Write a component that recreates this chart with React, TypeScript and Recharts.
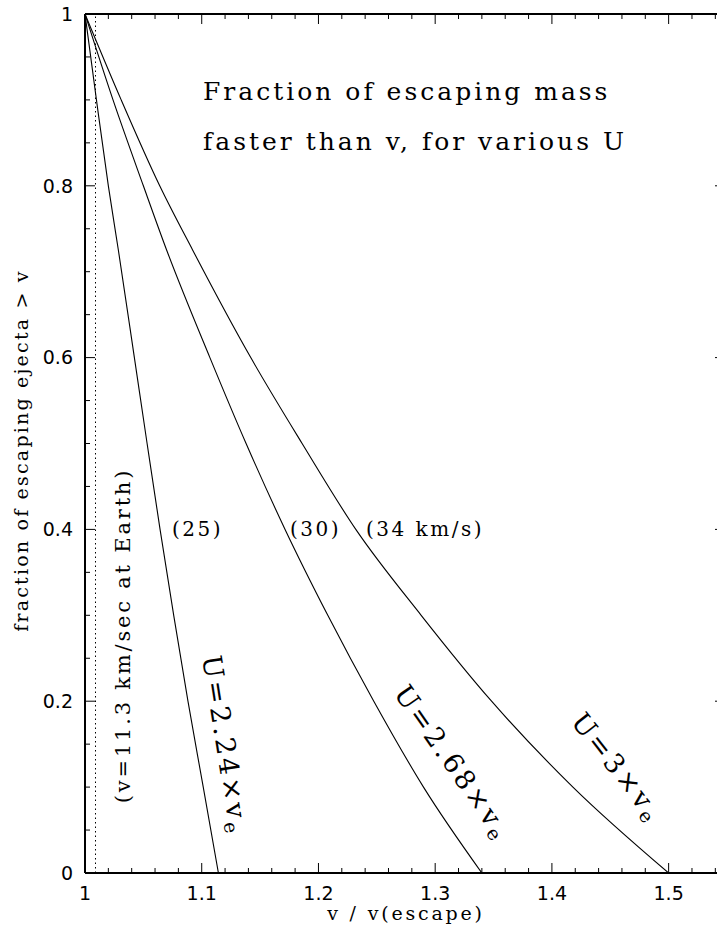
import { LineChart, Line, XAxis, YAxis, ReferenceLine, ReferenceDot } from "recharts";

// fraction of escaping ejecta faster than v (shared sample levels)
const fractionLevels = [1, 0.9, 0.8, 0.725, 0.6, 0.5, 0.4, 0.3, 0.2, 0.1, 0];
// v / v(escape) at those levels
const speedU224 = [1, 1.0098, 1.02, 1.0286, 1.0423, 1.0532, 1.0643, 1.076, 1.0882, 1.1013, 1.1143];
const speedU268 = [1, 1.024, 1.05, 1.07, 1.107, 1.138, 1.1714, 1.208, 1.2474, 1.29, 1.34];
const speedU300 = [1, 1.031, 1.064, 1.0923, 1.142, 1.186, 1.232, 1.288, 1.3483, 1.418, 1.5];

const xTicks = [
  1, 1.02, 1.04, 1.06, 1.08, 1.1, 1.12, 1.14, 1.16, 1.18, 1.2, 1.22, 1.24, 1.26,
  1.28, 1.3, 1.32, 1.34, 1.36, 1.38, 1.4, 1.42, 1.44, 1.46, 1.48, 1.5, 1.52, 1.54,
];
const xMajor = [1, 1.1, 1.2, 1.3, 1.4, 1.5];
const yTicks = [
  0, 0.05, 0.1, 0.15, 0.2, 0.25, 0.3, 0.35, 0.4, 0.45, 0.5, 0.55, 0.6, 0.65, 0.7,
  0.75, 0.8, 0.85, 0.9, 0.95, 1,
];
const yMajor = [0, 0.2, 0.4, 0.6, 0.8, 1];
const earthEscape = 1.009; // 11.3 / 11.2 km/s

const toSeries = (speeds: number[]) =>
  fractionLevels.map((f, i) => ({ v: speeds[i], f }));

const isMajor = (majors: number[], v: number) => majors.some((m) => Math.abs(m - v) < 1e-9);

const SERIF = "'DejaVu Serif', serif";
const SANS = "'DejaVu Sans', sans-serif";

// frame size of the plot box (chart 740x938, margins/axes below)
const PLOT_W = 642;
const PLOT_H = 859;

type Side = "bottom" | "left" | "right";

// ticks point inward, majors longer; bottom ticks are mirrored on the top frame
function makeTick(side: Side, majors: number[], labelled: boolean) {
  return (props: any) => {
    const x = Number(props.x);
    const y = Number(props.y);
    const val = props.payload.value as number;
    const major = isMajor(majors, val);
    let len = major ? 10 : 5;
    if (side === "right") len = major ? 12 : 6;
    let x2 = x;
    let y2 = y;
    if (side === "bottom") y2 = y - len;
    else if (side === "left") x2 = x + len;
    else x2 = x - len;
    const topY = y - PLOT_H;
    return (
      <g>
        <line x1={x} y1={y} x2={x2} y2={y2} stroke="#000" strokeWidth={1} />
        {side === "bottom" && (
          <line x1={x} y1={topY} x2={x} y2={topY + len} stroke="#000" strokeWidth={1} />
        )}
        {side === "left" && Math.abs(val - 1) < 1e-9 && (
          <line x1={x} y1={y} x2={x + PLOT_W} y2={y} stroke="#000" strokeWidth={2} />
        )}
        {labelled && major && side === "bottom" && (
          <text x={x} y={y + 27} textAnchor="middle" fontFamily={SANS} fontSize={19} fill="#000">
            {String(val)}
          </text>
        )}
        {labelled && major && side === "left" && (
          <text x={x - 12} y={y} dy="0.36em" textAnchor="end" fontFamily={SANS} fontSize={19} fill="#000">
            {String(val)}
          </text>
        )}
      </g>
    );
  };
}

function note(
  content: React.ReactNode,
  opts: { angle?: number; anchor?: "start" | "middle" | "end"; size?: number; spacing?: number; central?: boolean }
) {
  const { angle = 0, anchor = "start", size = 20, spacing = 2.5, central = false } = opts;
  return (p: any) => (
    <text
      x={p.cx}
      y={p.cy}
      transform={angle ? `rotate(${angle} ${p.cx} ${p.cy})` : undefined}
      textAnchor={anchor}
      dominantBaseline={central ? "central" : "auto"}
      fontFamily={SERIF}
      fontSize={size}
      letterSpacing={spacing}
      fill="#000"
    >
      {content}
    </text>
  );
}

function uLabel(coef: string) {
  return (
    <>
      <tspan>{`U=${coef}×v`}</tspan>
      <tspan fontSize="0.7em" dy="0.4em">e</tspan>
    </>
  );
}

export default function App() {
  const ids = { xAxisId: "bottom", yAxisId: "left" };
  return (
    <div style={{ position: "absolute", left: 0, top: 0, width: 717, height: 938, overflow: "hidden", background: "#fff" }}>
      <LineChart width={740} height={938} margin={{ top: 14, right: 12, left: 0, bottom: 0 }}>
        <XAxis
          xAxisId="bottom"
          dataKey="v"
          type="number"
          domain={[1, 1.55]}
          allowDataOverflow
          ticks={xTicks}
          interval={0}
          height={65}
          tickSize={0}
          tickMargin={0}
          tickLine={false}
          axisLine={{ stroke: "#000", strokeWidth: 2 }}
          tick={makeTick("bottom", xMajor, true)}
          label={{
            content: (p: any) => (
              <text
                x={p.viewBox.x + p.viewBox.width / 2}
                y={p.viewBox.y + 47}
                textAnchor="middle"
                fontFamily={SERIF}
                fontSize={19}
                letterSpacing={2.8}
                fill="#000"
              >
                v / v(escape)
              </text>
            ),
          }}
        />
        <YAxis
          yAxisId="left"
          type="number"
          domain={[0, 1]}
          allowDataOverflow
          ticks={yTicks}
          interval={0}
          width={85}
          tickSize={0}
          tickMargin={0}
          tickLine={false}
          axisLine={{ stroke: "#000", strokeWidth: 2 }}
          tick={makeTick("left", yMajor, true)}
          label={{
            content: (p: any) => {
              const cx = 28;
              const cy = p.viewBox.y + p.viewBox.height / 2 + 7;
              return (
                <text
                  x={cx}
                  y={cy}
                  transform={`rotate(-90 ${cx} ${cy})`}
                  textAnchor="middle"
                  fontFamily={SERIF}
                  fontSize={19}
                  letterSpacing={2.2}
                  fill="#000"
                >
                  fraction of escaping ejecta &gt; v
                </text>
              );
            },
          }}
        />
        <YAxis
          yAxisId="right"
          orientation="right"
          type="number"
          domain={[0, 1]}
          allowDataOverflow
          ticks={yTicks}
          interval={0}
          width={1}
          tickSize={0}
          tickMargin={0}
          tickLine={false}
          axisLine={{ stroke: "#000", strokeWidth: 2 }}
          tick={makeTick("right", yMajor, false)}
        />

        <ReferenceLine {...ids} x={earthEscape} stroke="#000" strokeWidth={1} strokeDasharray="1.5 3" />

        <Line {...ids} data={toSeries(speedU224)} dataKey="f" type="monotone" stroke="#000" strokeWidth={1.1} dot={false} isAnimationActive={false} />
        <Line {...ids} data={toSeries(speedU268)} dataKey="f" type="monotone" stroke="#000" strokeWidth={1.1} dot={false} isAnimationActive={false} />
        <Line {...ids} data={toSeries(speedU300)} dataKey="f" type="monotone" stroke="#000" strokeWidth={1.1} dot={false} isAnimationActive={false} />

        <ReferenceDot {...ids} x={1.1011} y={0.9} r={0} ifOverflow="visible" shape={note("Fraction of escaping mass", { size: 25, spacing: 3 })} />
        <ReferenceDot {...ids} x={1.1011} y={0.8417} r={0} ifOverflow="visible" shape={note("faster than v, for various U", { size: 25, spacing: 3 })} />
        <ReferenceDot {...ids} x={1.0386} y={0.2765} r={0} ifOverflow="visible" shape={note("(v=11.3 km/sec at Earth)", { angle: -90, anchor: "middle", size: 21, spacing: 2.8 })} />
        <ReferenceDot {...ids} x={1.0745} y={0.3923} r={0} ifOverflow="visible" shape={note("(25)", { size: 20, spacing: 2.5 })} />
        <ReferenceDot {...ids} x={1.1756} y={0.3923} r={0} ifOverflow="visible" shape={note("(30)", { size: 20, spacing: 2.5 })} />
        <ReferenceDot {...ids} x={1.2407} y={0.3923} r={0} ifOverflow="visible" shape={note("(34 km/s)", { size: 20, spacing: 2.5 })} />
        <ReferenceDot {...ids} x={1.1208} y={0.149} r={0} ifOverflow="visible" shape={note(uLabel("2.24"), { angle: 81, anchor: "middle", size: 27, spacing: 3, central: true })} />
        <ReferenceDot {...ids} x={1.3155} y={0.1292} r={0} ifOverflow="visible" shape={note(uLabel("2.68"), { angle: 55, anchor: "middle", size: 27, spacing: 3, central: true })} />
        <ReferenceDot {...ids} x={1.4565} y={0.1234} r={0} ifOverflow="visible" shape={note(uLabel("3"), { angle: 52, anchor: "middle", size: 27, spacing: 3, central: true })} />
      </LineChart>
    </div>
  );
}
